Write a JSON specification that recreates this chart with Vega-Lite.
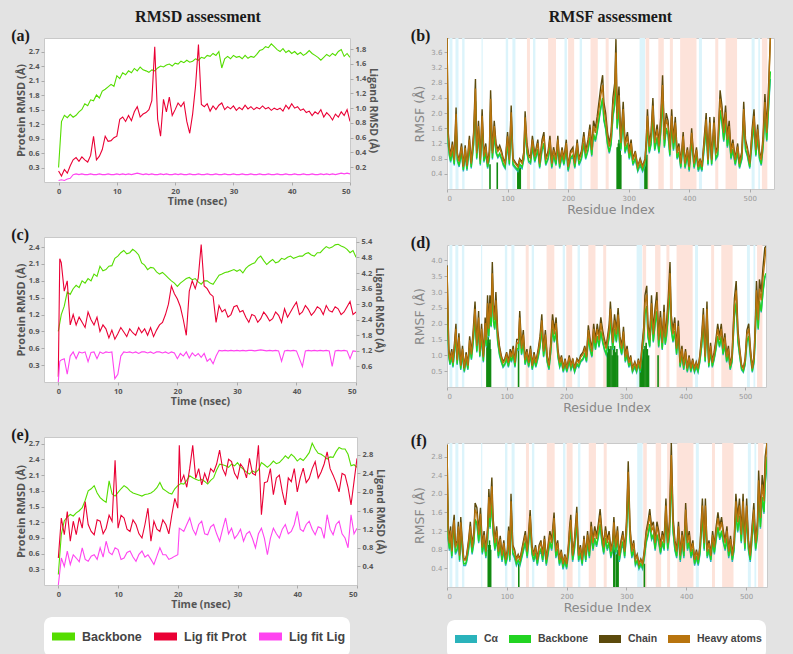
{
"$schema":"https://vega.github.io/schema/vega-lite/v6.json",
"background":"#e3e3e3",
"padding":{"left":10,"top":8,"right":20,"bottom":2},
"config":{
 "view":{"stroke":"#c9c9c9","fill":"#ffffff"},
 "axis":{"grid":false,"domain":false,"tickSize":3,"tickColor":"#aaaaaa","labelFontSize":7.5,"labelColor":"#555555","labelFont":"Open Sans","labelFontWeight":"bold","titleFont":"Open Sans","titleFontWeight":"bold","titleColor":"#555555","titleFontSize":11,"labelPadding":2,"titlePadding":2},
 "title":{"font":"Liberation Serif","fontWeight":"bold","color":"#1a1a1a"},
 "legend":{"fillColor":"#ffffff","cornerRadius":8,"padding":4,"offset":6,"labelFont":"Liberation Sans","labelFontWeight":"bold","labelColor":"#444444","labelOffset":3}
},
"datasets":{
"ra":[
{"t":0,"b":0.3,"p":0.15,"l":0.02},{"t":0.5,"b":1.25,"p":0.08,"l":0.03},{"t":1,"b":1.38,"p":0.17,"l":0.02},{"t":1.5,"b":1.33,"p":0.12,"l":0.04},{"t":2,"b":1.4,"p":0.22,"l":0.05},{"t":2.5,"b":1.34,"p":0.3,"l":0.1},{"t":3,"b":1.38,"p":0.33,"l":0.11},{"t":3.5,"b":1.45,"p":0.28,"l":0.1},{"t":4,"b":1.5,"p":0.34,"l":0.11},{"t":4.5,"b":1.62,"p":0.3,"l":0.1},{"t":5,"b":1.58,"p":0.27,"l":0.1},{"t":5.5,"b":1.7,"p":0.36,"l":0.11},{"t":6,"b":1.68,"p":0.62,"l":0.1},{"t":6.5,"b":1.8,"p":0.3,"l":0.1},{"t":7,"b":1.74,"p":0.35,"l":0.11},{"t":7.5,"b":1.88,"p":0.44,"l":0.1},{"t":8,"b":1.92,"p":0.62,"l":0.1},{"t":8.5,"b":1.97,"p":0.55,"l":0.11},{"t":9,"b":2.02,"p":0.56,"l":0.1},{"t":9.5,"b":1.98,"p":0.6,"l":0.1},{"t":10,"b":2.2,"p":0.62,"l":0.11},{"t":10.5,"b":2.14,"p":0.85,"l":0.1},{"t":11,"b":2.26,"p":0.88,"l":0.11},{"t":11.5,"b":2.22,"p":0.82,"l":0.1},{"t":12,"b":2.3,"p":0.9,"l":0.11},{"t":12.5,"b":2.26,"p":0.83,"l":0.1},{"t":13,"b":2.35,"p":0.95,"l":0.11},{"t":13.5,"b":2.3,"p":1.02,"l":0.12},{"t":14,"b":2.38,"p":0.88,"l":0.11},{"t":14.5,"b":2.32,"p":0.92,"l":0.1},{"t":15,"b":2.3,"p":0.94,"l":0.11},{"t":15.5,"b":2.27,"p":0.98,"l":0.1},{"t":16,"b":2.32,"p":1.1,"l":0.11},{"t":16.5,"b":2.3,"p":1.83,"l":0.1},{"t":17,"b":2.36,"p":0.85,"l":0.1},{"t":17.5,"b":2.4,"p":0.62,"l":0.11},{"t":18,"b":2.38,"p":1.12,"l":0.1},{"t":18.5,"b":2.42,"p":0.95,"l":0.11},{"t":19,"b":2.44,"p":1.15,"l":0.1},{"t":19.5,"b":2.4,"p":0.9,"l":0.1},{"t":20,"b":2.46,"p":0.98,"l":0.11},{"t":20.5,"b":2.44,"p":1.07,"l":0.1},{"t":21,"b":2.5,"p":1.02,"l":0.11},{"t":21.5,"b":2.47,"p":1.08,"l":0.1},{"t":22,"b":2.52,"p":0.82,"l":0.1},{"t":22.5,"b":2.48,"p":0.66,"l":0.11},{"t":23,"b":2.5,"p":0.92,"l":0.1},{"t":23.5,"b":2.55,"p":1.3,"l":0.1},{"t":24,"b":2.52,"p":1.86,"l":0.11},{"t":24.5,"b":2.58,"p":1.05,"l":0.1},{"t":25,"b":2.56,"p":1.02,"l":0.1},{"t":25.5,"b":2.62,"p":1.06,"l":0.11},{"t":26,"b":2.6,"p":0.96,"l":0.1},{"t":26.5,"b":2.66,"p":1.03,"l":0.1},{"t":27,"b":2.62,"p":0.98,"l":0.11},{"t":27.5,"b":2.7,"p":1.04,"l":0.1},{"t":28,"b":2.36,"p":1.07,"l":0.1},{"t":28.5,"b":2.55,"p":0.98,"l":0.11},{"t":29,"b":2.6,"p":1.02,"l":0.1},{"t":29.5,"b":2.55,"p":0.99,"l":0.1},{"t":30,"b":2.62,"p":1.03,"l":0.11},{"t":30.5,"b":2.58,"p":0.97,"l":0.1},{"t":31,"b":2.6,"p":1.01,"l":0.1},{"t":31.5,"b":2.55,"p":0.98,"l":0.11},{"t":32,"b":2.62,"p":1.04,"l":0.1},{"t":32.5,"b":2.56,"p":0.99,"l":0.1},{"t":33,"b":2.6,"p":1.02,"l":0.11},{"t":33.5,"b":2.58,"p":0.98,"l":0.1},{"t":34,"b":2.64,"p":1.01,"l":0.1},{"t":34.5,"b":2.72,"p":0.99,"l":0.11},{"t":35,"b":2.74,"p":1.03,"l":0.1},{"t":35.5,"b":2.8,"p":0.99,"l":0.1},{"t":36,"b":2.78,"p":1.01,"l":0.11},{"t":36.5,"b":2.86,"p":0.97,"l":0.1},{"t":37,"b":2.8,"p":1.0,"l":0.1},{"t":37.5,"b":2.74,"p":0.98,"l":0.11},{"t":38,"b":2.7,"p":1.0,"l":0.1},{"t":38.5,"b":2.76,"p":0.96,"l":0.1},{"t":39,"b":2.68,"p":1.04,"l":0.11},{"t":39.5,"b":2.72,"p":0.99,"l":0.1},{"t":40,"b":2.66,"p":1.06,"l":0.1},{"t":40.5,"b":2.7,"p":1.0,"l":0.11},{"t":41,"b":2.64,"p":1.02,"l":0.1},{"t":41.5,"b":2.68,"p":0.97,"l":0.1},{"t":42,"b":2.62,"p":0.99,"l":0.11},{"t":42.5,"b":2.66,"p":0.94,"l":0.1},{"t":43,"b":2.72,"p":0.96,"l":0.1},{"t":43.5,"b":2.66,"p":0.9,"l":0.11},{"t":44,"b":2.62,"p":0.95,"l":0.1},{"t":44.5,"b":2.58,"p":0.92,"l":0.1},{"t":45,"b":2.52,"p":0.98,"l":0.11},{"t":45.5,"b":2.58,"p":0.88,"l":0.1},{"t":46,"b":2.64,"p":0.94,"l":0.11},{"t":46.5,"b":2.6,"p":0.9,"l":0.1},{"t":47,"b":2.66,"p":0.84,"l":0.11},{"t":47.5,"b":2.62,"p":0.92,"l":0.1},{"t":48,"b":2.7,"p":0.88,"l":0.11},{"t":48.5,"b":2.74,"p":0.95,"l":0.12},{"t":49,"b":2.6,"p":0.9,"l":0.11},{"t":49.5,"b":2.66,"p":0.98,"l":0.12},{"t":50,"b":2.58,"p":0.82,"l":0.11}
],
"rc":[
{"t":0,"b":0.9,"p":0.2,"l":0.0},{"t":0.25,"b":1.05,"p":4.75,"l":0.8},{"t":0.5,"b":1.2,"p":4.6,"l":0.85},{"t":1,"b":1.35,"p":3.5,"l":0.9},{"t":1.5,"b":1.6,"p":3.9,"l":0.3},{"t":2,"b":1.56,"p":2.2,"l":1.0},{"t":2.5,"b":1.66,"p":2.6,"l":1.16},{"t":3,"b":1.72,"p":2.2,"l":0.9},{"t":3.5,"b":1.68,"p":2.5,"l":1.16},{"t":4,"b":1.8,"p":2.3,"l":1.12},{"t":4.5,"b":1.76,"p":2.1,"l":1.16},{"t":5,"b":1.84,"p":2.7,"l":0.78},{"t":5.5,"b":1.8,"p":2.4,"l":1.14},{"t":6,"b":1.92,"p":2.2,"l":1.16},{"t":6.5,"b":1.88,"p":2.5,"l":0.9},{"t":7,"b":2.06,"p":1.95,"l":1.16},{"t":7.5,"b":1.98,"p":2.2,"l":1.1},{"t":8,"b":2.0,"p":2.05,"l":1.16},{"t":8.5,"b":2.06,"p":1.7,"l":1.14},{"t":9,"b":2.07,"p":2.0,"l":1.16},{"t":9.5,"b":2.2,"p":1.65,"l":0.13},{"t":10,"b":2.24,"p":1.86,"l":0.3},{"t":10.5,"b":2.3,"p":2.1,"l":1.0},{"t":11,"b":2.34,"p":1.93,"l":1.16},{"t":11.5,"b":2.28,"p":1.75,"l":1.14},{"t":12,"b":2.3,"p":2.05,"l":1.16},{"t":12.5,"b":2.36,"p":1.9,"l":1.12},{"t":13,"b":2.32,"p":1.8,"l":1.16},{"t":13.5,"b":2.26,"p":2.1,"l":1.1},{"t":14,"b":2.12,"p":1.9,"l":1.16},{"t":14.5,"b":2.08,"p":2.05,"l":1.16},{"t":15,"b":2.0,"p":1.8,"l":1.12},{"t":15.5,"b":2.04,"p":2.1,"l":1.16},{"t":16,"b":2.03,"p":1.75,"l":1.1},{"t":16.5,"b":1.96,"p":2.0,"l":1.16},{"t":17,"b":1.92,"p":2.2,"l":1.16},{"t":17.5,"b":1.95,"p":2.3,"l":1.12},{"t":18,"b":1.9,"p":2.6,"l":1.16},{"t":18.5,"b":1.85,"p":3.0,"l":1.1},{"t":19,"b":1.8,"p":3.7,"l":1.16},{"t":19.5,"b":1.76,"p":3.4,"l":1.12},{"t":20,"b":1.7,"p":3.2,"l":0.9},{"t":20.5,"b":1.76,"p":2.9,"l":1.1},{"t":21,"b":1.8,"p":2.4,"l":1.0},{"t":21.5,"b":1.84,"p":1.8,"l":1.16},{"t":22,"b":1.86,"p":3.5,"l":0.92},{"t":22.5,"b":1.82,"p":3.9,"l":1.12},{"t":23,"b":1.84,"p":3.6,"l":1.0},{"t":23.5,"b":1.78,"p":4.0,"l":1.1},{"t":24,"b":1.74,"p":5.3,"l":0.95},{"t":24.5,"b":1.8,"p":3.7,"l":1.1},{"t":25,"b":1.8,"p":3.6,"l":0.8},{"t":25.5,"b":1.76,"p":3.4,"l":0.9},{"t":26,"b":1.74,"p":3.3,"l":0.7},{"t":26.5,"b":1.82,"p":2.3,"l":1.0},{"t":27,"b":1.9,"p":2.95,"l":1.22},{"t":27.5,"b":1.92,"p":2.7,"l":1.2},{"t":28,"b":1.95,"p":2.8,"l":1.22},{"t":28.5,"b":1.96,"p":2.5,"l":1.2},{"t":29,"b":1.98,"p":2.6,"l":1.22},{"t":29.5,"b":2.0,"p":2.9,"l":1.2},{"t":30,"b":1.97,"p":2.95,"l":1.22},{"t":30.5,"b":2.0,"p":2.7,"l":1.2},{"t":31,"b":1.94,"p":2.76,"l":1.22},{"t":31.5,"b":2.02,"p":2.5,"l":1.2},{"t":32,"b":2.07,"p":2.3,"l":1.22},{"t":32.5,"b":2.1,"p":2.6,"l":1.22},{"t":33,"b":2.12,"p":2.55,"l":1.2},{"t":33.5,"b":2.2,"p":2.3,"l":1.22},{"t":34,"b":2.24,"p":2.44,"l":1.24},{"t":34.5,"b":2.16,"p":2.7,"l":1.22},{"t":35,"b":2.09,"p":2.55,"l":1.2},{"t":35.5,"b":2.14,"p":2.35,"l":1.22},{"t":36,"b":2.18,"p":2.44,"l":1.2},{"t":36.5,"b":2.12,"p":2.7,"l":1.22},{"t":37,"b":2.14,"p":2.57,"l":1.2},{"t":37.5,"b":2.2,"p":2.3,"l":0.8},{"t":38,"b":2.18,"p":2.82,"l":1.2},{"t":38.5,"b":2.22,"p":2.5,"l":1.22},{"t":39,"b":2.24,"p":2.7,"l":1.2},{"t":39.5,"b":2.2,"p":2.9,"l":1.22},{"t":40,"b":2.22,"p":3.08,"l":1.2},{"t":40.5,"b":2.24,"p":2.6,"l":0.9},{"t":41,"b":2.24,"p":2.7,"l":0.6},{"t":41.5,"b":2.28,"p":2.95,"l":1.2},{"t":42,"b":2.3,"p":2.8,"l":1.22},{"t":42.5,"b":2.26,"p":2.57,"l":1.2},{"t":43,"b":2.24,"p":2.7,"l":1.22},{"t":43.5,"b":2.3,"p":2.9,"l":1.2},{"t":44,"b":2.3,"p":2.82,"l":1.22},{"t":44.5,"b":2.36,"p":2.6,"l":1.2},{"t":45,"b":2.41,"p":2.95,"l":1.22},{"t":45.5,"b":2.38,"p":2.75,"l":1.2},{"t":46,"b":2.4,"p":2.7,"l":0.6},{"t":46.5,"b":2.44,"p":2.9,"l":1.2},{"t":47,"b":2.45,"p":2.82,"l":1.22},{"t":47.5,"b":2.42,"p":2.6,"l":1.2},{"t":48,"b":2.4,"p":2.7,"l":1.22},{"t":48.5,"b":2.36,"p":2.9,"l":1.2},{"t":49,"b":2.3,"p":3.1,"l":0.9},{"t":49.5,"b":2.34,"p":2.6,"l":1.2},{"t":50,"b":2.22,"p":2.7,"l":1.18}
],
"re":[
{"t":0,"b":0.2,"p":0.58,"l":0.0},{"t":0.5,"b":0.97,"p":1.44,"l":0.58},{"t":1,"b":1.23,"p":1.08,"l":0.4},{"t":1.5,"b":1.3,"p":1.58,"l":0.73},{"t":2,"b":1.35,"p":0.94,"l":0.44},{"t":2.5,"b":1.32,"p":1.37,"l":0.65},{"t":3,"b":1.38,"p":1.08,"l":0.58},{"t":3.5,"b":1.42,"p":1.45,"l":0.5},{"t":4,"b":1.48,"p":1.22,"l":0.8},{"t":4.5,"b":1.62,"p":1.79,"l":0.55},{"t":5,"b":1.8,"p":1.3,"l":0.51},{"t":5.5,"b":1.84,"p":1.15,"l":0.62},{"t":6,"b":1.9,"p":1.08,"l":0.65},{"t":6.5,"b":1.76,"p":1.4,"l":0.55},{"t":7,"b":1.67,"p":1.37,"l":0.8},{"t":7.5,"b":1.62,"p":1.1,"l":0.6},{"t":8,"b":1.58,"p":1.22,"l":0.94},{"t":8.5,"b":1.99,"p":1.5,"l":0.7},{"t":9,"b":1.74,"p":1.37,"l":0.65},{"t":9.5,"b":1.7,"p":2.68,"l":0.8},{"t":10,"b":1.77,"p":1.22,"l":0.76},{"t":10.5,"b":1.84,"p":1.5,"l":0.55},{"t":11,"b":1.9,"p":1.44,"l":0.58},{"t":11.5,"b":1.86,"p":1.2,"l":0.7},{"t":12,"b":1.8,"p":1.15,"l":0.73},{"t":12.5,"b":1.76,"p":1.4,"l":0.6},{"t":13,"b":1.74,"p":1.3,"l":0.51},{"t":13.5,"b":1.72,"p":1.1,"l":0.66},{"t":14,"b":1.7,"p":1.01,"l":0.73},{"t":14.5,"b":1.73,"p":1.3,"l":0.6},{"t":15,"b":1.74,"p":1.65,"l":0.65},{"t":15.5,"b":1.76,"p":0.94,"l":0.55},{"t":16,"b":1.8,"p":1.37,"l":0.44},{"t":16.5,"b":1.86,"p":1.2,"l":0.62},{"t":17,"b":1.96,"p":1.15,"l":0.8},{"t":17.5,"b":1.84,"p":1.4,"l":0.65},{"t":18,"b":1.8,"p":1.3,"l":0.65},{"t":18.5,"b":1.76,"p":1.1,"l":0.55},{"t":19,"b":1.74,"p":1.51,"l":0.58},{"t":19.5,"b":1.84,"p":1.86,"l":0.62},{"t":20,"b":1.9,"p":1.65,"l":0.65},{"t":20.25,"b":1.92,"p":3.0,"l":1.22},{"t":20.5,"b":1.94,"p":2.2,"l":1.2},{"t":21,"b":1.93,"p":2.36,"l":1.15},{"t":21.5,"b":2.0,"p":2.1,"l":1.3},{"t":22,"b":2.09,"p":2.51,"l":1.44},{"t":22.5,"b":2.05,"p":3.0,"l":1.2},{"t":23,"b":2.02,"p":2.29,"l":1.08},{"t":23.5,"b":2.0,"p":2.5,"l":1.3},{"t":24,"b":2.02,"p":2.15,"l":1.37},{"t":24.5,"b":1.98,"p":2.4,"l":1.1},{"t":25,"b":1.93,"p":2.22,"l":1.08},{"t":25.5,"b":2.0,"p":2.5,"l":1.25},{"t":26,"b":2.05,"p":2.43,"l":1.3},{"t":26.5,"b":2.2,"p":2.6,"l":1.1},{"t":27,"b":2.31,"p":2.9,"l":0.94},{"t":27.5,"b":2.3,"p":2.5,"l":1.2},{"t":28,"b":2.28,"p":2.36,"l":1.44},{"t":28.5,"b":2.25,"p":2.7,"l":1.1},{"t":29,"b":2.31,"p":2.65,"l":1.22},{"t":29.5,"b":2.28,"p":2.4,"l":1.0},{"t":30,"b":2.34,"p":2.29,"l":1.08},{"t":30.5,"b":2.26,"p":2.6,"l":1.2},{"t":31,"b":2.21,"p":2.51,"l":0.94},{"t":31.5,"b":2.16,"p":2.3,"l":1.1},{"t":32,"b":2.12,"p":2.72,"l":1.15},{"t":32.5,"b":2.18,"p":2.4,"l":1.0},{"t":33,"b":2.15,"p":2.36,"l":0.8},{"t":33.5,"b":2.2,"p":3.0,"l":1.1},{"t":34,"b":2.34,"p":1.51,"l":1.22},{"t":34.5,"b":2.3,"p":2.2,"l":1.0},{"t":35,"b":2.25,"p":2.22,"l":0.65},{"t":35.5,"b":2.3,"p":2.5,"l":1.0},{"t":36,"b":2.37,"p":1.94,"l":1.22},{"t":36.5,"b":2.32,"p":2.3,"l":1.1},{"t":37,"b":2.34,"p":2.36,"l":1.01},{"t":37.5,"b":2.4,"p":2.0,"l":1.2},{"t":38,"b":2.47,"p":1.72,"l":1.3},{"t":38.5,"b":2.42,"p":2.3,"l":1.1},{"t":39,"b":2.5,"p":2.22,"l":1.15},{"t":39.5,"b":2.45,"p":2.5,"l":1.3},{"t":40,"b":2.37,"p":2.0,"l":1.58},{"t":40.5,"b":2.42,"p":2.3,"l":1.2},{"t":41,"b":2.38,"p":2.51,"l":1.15},{"t":41.5,"b":2.45,"p":2.2,"l":1.3},{"t":42,"b":2.53,"p":2.29,"l":1.37},{"t":42.5,"b":2.71,"p":2.5,"l":1.2},{"t":43,"b":2.6,"p":2.65,"l":1.08},{"t":43.5,"b":2.52,"p":2.3,"l":1.25},{"t":44,"b":2.5,"p":2.43,"l":1.22},{"t":44.5,"b":2.46,"p":2.6,"l":1.0},{"t":45,"b":2.41,"p":2.86,"l":1.51},{"t":45.5,"b":2.45,"p":2.5,"l":1.2},{"t":46,"b":2.44,"p":2.36,"l":1.08},{"t":46.5,"b":2.55,"p":2.2,"l":1.3},{"t":47,"b":2.63,"p":2.0,"l":1.37},{"t":47.5,"b":2.6,"p":2.4,"l":1.1},{"t":48,"b":2.6,"p":2.36,"l":1.01},{"t":48.5,"b":2.5,"p":2.1,"l":0.8},{"t":49,"b":2.28,"p":1.72,"l":1.51},{"t":49.5,"b":2.3,"p":2.22,"l":1.1},{"t":50,"b":2.25,"p":2.72,"l":1.22}
],
"fb":[
{"r":0,"a":2.7,"b":2.85,"c":4.0,"h":3.98},{"r":2,"a":1.17,"b":1.21,"c":1.5,"h":1.39},{"r":4,"a":0.86,"b":0.9,"c":1.1,"h":1.03},{"r":6,"a":0.7,"b":0.74,"c":0.9,"h":0.85},{"r":9,"a":0.98,"b":1.02,"c":1.25,"h":1.17},{"r":12,"a":0.62,"b":0.66,"c":0.8,"h":0.76},{"r":15,"a":1.69,"b":1.73,"c":2.15,"h":1.98},{"r":17,"a":0.74,"b":0.78,"c":0.95,"h":0.9},{"r":20,"a":0.58,"b":0.62,"c":0.75,"h":0.72},{"r":24,"a":0.94,"b":0.98,"c":1.2,"h":1.12},{"r":27,"a":0.46,"b":0.5,"c":0.6,"h":0.58},{"r":30,"a":0.9,"b":0.94,"c":1.15,"h":1.08},{"r":33,"a":0.48,"b":0.52,"c":0.62,"h":0.6},{"r":37,"a":1.09,"b":1.13,"c":1.4,"h":1.3},{"r":40,"a":0.54,"b":0.58,"c":0.7,"h":0.67},{"r":44,"a":1.17,"b":1.21,"c":1.5,"h":1.39},{"r":47,"a":2.28,"b":2.32,"c":2.9,"h":2.65},{"r":49,"a":0.78,"b":0.82,"c":1.0,"h":0.94},{"r":52,"a":1.41,"b":1.45,"c":1.8,"h":1.66},{"r":55,"a":0.62,"b":0.66,"c":0.8,"h":0.76},{"r":58,"a":1.65,"b":1.69,"c":2.1,"h":1.93},{"r":61,"a":0.7,"b":0.74,"c":0.9,"h":0.85},{"r":64,"a":0.94,"b":0.98,"c":1.2,"h":1.12},{"r":67,"a":0.54,"b":0.58,"c":0.7,"h":0.67},{"r":70,"a":0.78,"b":0.82,"c":1.0,"h":0.94},{"r":72,"a":2.04,"b":2.08,"c":2.6,"h":2.38},{"r":75,"a":0.78,"b":0.82,"c":1.0,"h":0.94},{"r":78,"a":1.41,"b":1.45,"c":1.8,"h":1.66},{"r":81,"a":0.94,"b":0.98,"c":1.2,"h":1.12},{"r":84,"a":0.82,"b":0.86,"c":1.05,"h":0.99},{"r":87,"a":0.9,"b":0.94,"c":1.15,"h":1.08},{"r":90,"a":0.78,"b":0.82,"c":1.0,"h":0.94},{"r":93,"a":0.62,"b":0.66,"c":0.8,"h":0.76},{"r":96,"a":0.54,"b":0.58,"c":0.7,"h":0.67},{"r":100,"a":1.17,"b":1.21,"c":1.5,"h":1.39},{"r":103,"a":0.62,"b":0.66,"c":0.8,"h":0.76},{"r":106,"a":1.73,"b":1.77,"c":2.2,"h":2.02},{"r":109,"a":0.62,"b":0.66,"c":0.8,"h":0.76},{"r":113,"a":0.54,"b":0.58,"c":0.7,"h":0.67},{"r":117,"a":0.46,"b":0.5,"c":0.6,"h":0.58},{"r":120,"a":0.62,"b":0.66,"c":0.8,"h":0.76},{"r":124,"a":0.54,"b":0.58,"c":0.7,"h":0.67},{"r":127,"a":0.78,"b":0.82,"c":1.0,"h":0.94},{"r":129,"a":1.61,"b":1.65,"c":2.05,"h":1.89},{"r":132,"a":0.94,"b":0.98,"c":1.2,"h":1.12},{"r":135,"a":0.7,"b":0.74,"c":0.9,"h":0.85},{"r":138,"a":0.66,"b":0.7,"c":0.85,"h":0.81},{"r":141,"a":1.09,"b":1.13,"c":1.4,"h":1.3},{"r":145,"a":0.7,"b":0.74,"c":0.9,"h":0.85},{"r":150,"a":1.01,"b":1.05,"c":1.3,"h":1.21},{"r":153,"a":0.54,"b":0.58,"c":0.7,"h":0.67},{"r":157,"a":1.01,"b":1.05,"c":1.3,"h":1.21},{"r":160,"a":1.17,"b":1.21,"c":1.5,"h":1.39},{"r":163,"a":0.62,"b":0.66,"c":0.8,"h":0.76},{"r":167,"a":0.78,"b":0.82,"c":1.0,"h":0.94},{"r":170,"a":1.09,"b":1.13,"c":1.4,"h":1.3},{"r":173,"a":0.54,"b":0.58,"c":0.7,"h":0.67},{"r":176,"a":0.86,"b":0.9,"c":1.1,"h":1.03},{"r":180,"a":0.62,"b":0.66,"c":0.8,"h":0.76},{"r":183,"a":1.09,"b":1.13,"c":1.4,"h":1.3},{"r":186,"a":0.54,"b":0.58,"c":0.7,"h":0.67},{"r":190,"a":0.86,"b":0.9,"c":1.1,"h":1.03},{"r":193,"a":0.62,"b":0.66,"c":0.8,"h":0.76},{"r":197,"a":1.01,"b":1.05,"c":1.3,"h":1.21},{"r":200,"a":0.46,"b":0.5,"c":0.6,"h":0.58},{"r":204,"a":0.78,"b":0.82,"c":1.0,"h":0.94},{"r":208,"a":0.86,"b":0.9,"c":1.1,"h":1.03},{"r":211,"a":0.54,"b":0.58,"c":0.7,"h":0.67},{"r":215,"a":1.01,"b":1.05,"c":1.3,"h":1.21},{"r":218,"a":0.62,"b":0.66,"c":0.8,"h":0.76},{"r":222,"a":0.78,"b":0.82,"c":1.0,"h":0.94},{"r":226,"a":1.17,"b":1.21,"c":1.5,"h":1.39},{"r":229,"a":0.78,"b":0.82,"c":1.0,"h":0.94},{"r":233,"a":1.01,"b":1.05,"c":1.3,"h":1.21},{"r":236,"a":1.33,"b":1.37,"c":1.7,"h":1.57},{"r":239,"a":0.86,"b":0.9,"c":1.1,"h":1.03},{"r":242,"a":1.41,"b":1.45,"c":1.8,"h":1.66},{"r":245,"a":1.25,"b":1.29,"c":1.6,"h":1.48},{"r":248,"a":1.49,"b":1.53,"c":1.9,"h":1.75},{"r":251,"a":1.81,"b":1.85,"c":2.3,"h":2.11},{"r":254,"a":2.12,"b":2.16,"c":2.7,"h":2.47},{"r":257,"a":2.36,"b":2.4,"c":3.0,"h":2.74},{"r":259,"a":1.81,"b":1.85,"c":2.3,"h":2.11},{"r":262,"a":1.57,"b":1.61,"c":2.0,"h":1.84},{"r":265,"a":1.17,"b":1.21,"c":1.5,"h":1.39},{"r":268,"a":0.94,"b":0.98,"c":1.2,"h":1.12},{"r":271,"a":1.17,"b":1.21,"c":1.5,"h":1.39},{"r":274,"a":1.89,"b":1.93,"c":2.4,"h":2.2},{"r":277,"a":2.2,"b":2.24,"c":2.8,"h":2.56},{"r":279,"a":3.12,"b":3.16,"c":3.95,"h":3.6},{"r":281,"a":1.57,"b":1.61,"c":2.0,"h":1.84},{"r":284,"a":2.12,"b":2.16,"c":2.7,"h":2.47},{"r":287,"a":1.01,"b":1.05,"c":1.3,"h":1.21},{"r":291,"a":1.81,"b":1.85,"c":2.3,"h":2.11},{"r":294,"a":0.94,"b":0.98,"c":1.2,"h":1.12},{"r":298,"a":1.17,"b":1.21,"c":1.5,"h":1.39},{"r":301,"a":0.78,"b":0.82,"c":1.0,"h":0.94},{"r":304,"a":1.01,"b":1.05,"c":1.3,"h":1.21},{"r":307,"a":0.62,"b":0.66,"c":0.8,"h":0.76},{"r":311,"a":0.78,"b":0.82,"c":1.0,"h":0.94},{"r":315,"a":0.46,"b":0.5,"c":0.6,"h":0.58},{"r":319,"a":0.62,"b":0.66,"c":0.8,"h":0.76},{"r":323,"a":0.46,"b":0.5,"c":0.6,"h":0.58},{"r":327,"a":0.62,"b":0.66,"c":0.8,"h":0.76},{"r":329,"a":1.01,"b":1.05,"c":1.3,"h":1.21},{"r":331,"a":1.65,"b":1.69,"c":2.1,"h":1.93},{"r":334,"a":0.94,"b":0.98,"c":1.2,"h":1.12},{"r":337,"a":1.17,"b":1.21,"c":1.5,"h":1.39},{"r":340,"a":1.89,"b":1.93,"c":2.4,"h":2.2},{"r":343,"a":1.01,"b":1.05,"c":1.3,"h":1.21},{"r":347,"a":1.33,"b":1.37,"c":1.7,"h":1.57},{"r":350,"a":0.94,"b":0.98,"c":1.2,"h":1.12},{"r":353,"a":1.49,"b":1.53,"c":1.9,"h":1.75},{"r":356,"a":2.36,"b":2.4,"c":3.0,"h":2.74},{"r":359,"a":1.09,"b":1.13,"c":1.4,"h":1.3},{"r":362,"a":1.57,"b":1.61,"c":2.0,"h":1.84},{"r":365,"a":1.41,"b":1.45,"c":1.8,"h":1.66},{"r":368,"a":0.86,"b":0.9,"c":1.1,"h":1.03},{"r":371,"a":1.65,"b":1.69,"c":2.1,"h":1.93},{"r":374,"a":1.01,"b":1.05,"c":1.3,"h":1.21},{"r":377,"a":1.49,"b":1.53,"c":1.9,"h":1.75},{"r":380,"a":0.78,"b":0.82,"c":1.0,"h":0.94},{"r":383,"a":0.94,"b":0.98,"c":1.2,"h":1.12},{"r":386,"a":0.54,"b":0.58,"c":0.7,"h":0.67},{"r":390,"a":1.17,"b":1.21,"c":1.5,"h":1.39},{"r":393,"a":0.54,"b":0.58,"c":0.7,"h":0.67},{"r":397,"a":0.86,"b":0.9,"c":1.1,"h":1.03},{"r":400,"a":0.46,"b":0.5,"c":0.6,"h":0.58},{"r":404,"a":1.25,"b":1.29,"c":1.6,"h":1.48},{"r":408,"a":0.54,"b":0.58,"c":0.7,"h":0.67},{"r":412,"a":0.86,"b":0.9,"c":1.1,"h":1.03},{"r":415,"a":0.46,"b":0.5,"c":0.6,"h":0.58},{"r":418,"a":0.62,"b":0.66,"c":0.8,"h":0.76},{"r":421,"a":0.46,"b":0.5,"c":0.6,"h":0.58},{"r":424,"a":0.94,"b":0.98,"c":1.2,"h":1.12},{"r":428,"a":1.57,"b":1.61,"c":2.0,"h":1.84},{"r":431,"a":0.62,"b":0.66,"c":0.8,"h":0.76},{"r":434,"a":1.49,"b":1.53,"c":1.9,"h":1.75},{"r":437,"a":0.62,"b":0.66,"c":0.8,"h":0.76},{"r":441,"a":1.49,"b":1.53,"c":1.9,"h":1.75},{"r":444,"a":0.78,"b":0.82,"c":1.0,"h":0.94},{"r":447,"a":0.86,"b":0.9,"c":1.1,"h":1.03},{"r":451,"a":2.04,"b":2.08,"c":2.6,"h":2.38},{"r":454,"a":1.73,"b":1.77,"c":2.2,"h":2.02},{"r":457,"a":1.25,"b":1.29,"c":1.6,"h":1.48},{"r":460,"a":1.73,"b":1.77,"c":2.2,"h":2.02},{"r":463,"a":1.09,"b":1.13,"c":1.4,"h":1.3},{"r":466,"a":1.41,"b":1.45,"c":1.8,"h":1.66},{"r":469,"a":0.78,"b":0.82,"c":1.0,"h":0.94},{"r":472,"a":1.01,"b":1.05,"c":1.3,"h":1.21},{"r":476,"a":0.62,"b":0.66,"c":0.8,"h":0.76},{"r":480,"a":0.94,"b":0.98,"c":1.2,"h":1.12},{"r":483,"a":0.54,"b":0.58,"c":0.7,"h":0.67},{"r":487,"a":0.78,"b":0.82,"c":1.0,"h":0.94},{"r":490,"a":1.81,"b":1.85,"c":2.3,"h":2.11},{"r":493,"a":1.01,"b":1.05,"c":1.3,"h":1.21},{"r":496,"a":0.86,"b":0.9,"c":1.1,"h":1.03},{"r":500,"a":0.54,"b":0.58,"c":0.7,"h":0.67},{"r":504,"a":1.25,"b":1.29,"c":1.6,"h":1.48},{"r":507,"a":1.65,"b":1.69,"c":2.1,"h":1.93},{"r":510,"a":0.86,"b":0.9,"c":1.1,"h":1.03},{"r":513,"a":1.33,"b":1.37,"c":1.7,"h":1.57},{"r":516,"a":0.78,"b":0.82,"c":1.0,"h":0.94},{"r":519,"a":0.62,"b":0.66,"c":0.8,"h":0.76},{"r":522,"a":1.09,"b":1.13,"c":1.4,"h":1.3},{"r":525,"a":1.96,"b":2.0,"c":2.5,"h":2.29},{"r":528,"a":1.25,"b":1.29,"c":1.6,"h":1.48},{"r":531,"a":2.12,"b":2.16,"c":2.7,"h":2.47},{"r":534,"a":2.9,"b":3.1,"c":4.0,"h":3.98}
],
"fd":[
{"r":0,"a":2.4,"b":2.6,"c":3.85,"h":3.8},{"r":3,"a":0.94,"b":0.98,"c":1.2,"h":1.12},{"r":5,"a":0.7,"b":0.74,"c":0.9,"h":0.85},{"r":8,"a":0.94,"b":0.98,"c":1.2,"h":1.12},{"r":10,"a":0.62,"b":0.66,"c":0.8,"h":0.76},{"r":13,"a":1.17,"b":1.21,"c":1.5,"h":1.39},{"r":15,"a":1.57,"b":1.61,"c":2.0,"h":1.84},{"r":17,"a":0.7,"b":0.74,"c":0.9,"h":0.85},{"r":20,"a":1.33,"b":1.37,"c":1.7,"h":1.57},{"r":23,"a":0.54,"b":0.58,"c":0.7,"h":0.67},{"r":26,"a":1.01,"b":1.05,"c":1.3,"h":1.21},{"r":29,"a":0.46,"b":0.5,"c":0.6,"h":0.58},{"r":32,"a":0.86,"b":0.9,"c":1.1,"h":1.03},{"r":35,"a":0.54,"b":0.58,"c":0.7,"h":0.67},{"r":38,"a":1.25,"b":1.29,"c":1.6,"h":1.48},{"r":41,"a":0.86,"b":0.9,"c":1.1,"h":1.03},{"r":44,"a":1.41,"b":1.45,"c":1.8,"h":1.66},{"r":47,"a":2.12,"b":2.16,"c":2.7,"h":2.47},{"r":50,"a":1.09,"b":1.13,"c":1.4,"h":1.3},{"r":53,"a":1.89,"b":1.93,"c":2.4,"h":2.2},{"r":55,"a":0.94,"b":0.98,"c":1.2,"h":1.12},{"r":58,"a":1.57,"b":1.61,"c":2.0,"h":1.84},{"r":61,"a":0.78,"b":0.82,"c":1.0,"h":0.94},{"r":64,"a":1.73,"b":1.77,"c":2.2,"h":2.02},{"r":66,"a":1.25,"b":1.29,"c":1.6,"h":1.48},{"r":68,"a":2.28,"b":2.32,"c":2.9,"h":2.65},{"r":70,"a":1.57,"b":1.61,"c":2.0,"h":1.84},{"r":72,"a":2.28,"b":2.32,"c":2.9,"h":2.65},{"r":74,"a":1.89,"b":1.93,"c":2.4,"h":2.2},{"r":76,"a":3.12,"b":3.16,"c":3.95,"h":3.6},{"r":78,"a":2.04,"b":2.08,"c":2.6,"h":2.38},{"r":80,"a":1.81,"b":1.85,"c":2.3,"h":2.11},{"r":82,"a":2.36,"b":2.4,"c":3.0,"h":2.74},{"r":85,"a":1.41,"b":1.45,"c":1.8,"h":1.66},{"r":88,"a":1.01,"b":1.05,"c":1.3,"h":1.21},{"r":91,"a":0.78,"b":0.82,"c":1.0,"h":0.94},{"r":94,"a":0.62,"b":0.66,"c":0.8,"h":0.76},{"r":97,"a":0.7,"b":0.74,"c":0.9,"h":0.85},{"r":100,"a":0.86,"b":0.9,"c":1.1,"h":1.03},{"r":103,"a":0.62,"b":0.66,"c":0.8,"h":0.76},{"r":106,"a":0.94,"b":0.98,"c":1.2,"h":1.12},{"r":108,"a":0.78,"b":0.82,"c":1.0,"h":0.94},{"r":111,"a":1.01,"b":1.05,"c":1.3,"h":1.21},{"r":114,"a":0.62,"b":0.66,"c":0.8,"h":0.76},{"r":117,"a":1.17,"b":1.21,"c":1.5,"h":1.39},{"r":120,"a":1.17,"b":1.21,"c":1.5,"h":1.39},{"r":122,"a":1.89,"b":1.93,"c":2.4,"h":2.2},{"r":125,"a":1.01,"b":1.05,"c":1.3,"h":1.21},{"r":128,"a":1.41,"b":1.45,"c":1.8,"h":1.66},{"r":131,"a":0.7,"b":0.74,"c":0.9,"h":0.85},{"r":134,"a":0.94,"b":0.98,"c":1.2,"h":1.12},{"r":137,"a":0.62,"b":0.66,"c":0.8,"h":0.76},{"r":140,"a":1.01,"b":1.05,"c":1.3,"h":1.21},{"r":143,"a":0.54,"b":0.58,"c":0.7,"h":0.67},{"r":146,"a":0.86,"b":0.9,"c":1.1,"h":1.03},{"r":149,"a":0.62,"b":0.66,"c":0.8,"h":0.76},{"r":153,"a":0.94,"b":0.98,"c":1.2,"h":1.12},{"r":156,"a":1.25,"b":1.29,"c":1.6,"h":1.48},{"r":159,"a":1.81,"b":1.85,"c":2.3,"h":2.11},{"r":162,"a":0.94,"b":0.98,"c":1.2,"h":1.12},{"r":165,"a":1.41,"b":1.45,"c":1.8,"h":1.66},{"r":168,"a":0.78,"b":0.82,"c":1.0,"h":0.94},{"r":171,"a":0.54,"b":0.58,"c":0.7,"h":0.67},{"r":174,"a":1.09,"b":1.13,"c":1.4,"h":1.3},{"r":177,"a":1.81,"b":1.85,"c":2.3,"h":2.11},{"r":180,"a":1.41,"b":1.45,"c":1.8,"h":1.66},{"r":183,"a":1.73,"b":1.77,"c":2.2,"h":2.02},{"r":186,"a":0.94,"b":0.98,"c":1.2,"h":1.12},{"r":189,"a":0.62,"b":0.66,"c":0.8,"h":0.76},{"r":192,"a":0.78,"b":0.82,"c":1.0,"h":0.94},{"r":195,"a":0.46,"b":0.5,"c":0.6,"h":0.58},{"r":198,"a":0.7,"b":0.74,"c":0.9,"h":0.85},{"r":201,"a":0.46,"b":0.5,"c":0.6,"h":0.58},{"r":205,"a":0.78,"b":0.82,"c":1.0,"h":0.94},{"r":208,"a":0.54,"b":0.58,"c":0.7,"h":0.67},{"r":211,"a":0.7,"b":0.74,"c":0.9,"h":0.85},{"r":214,"a":0.46,"b":0.5,"c":0.6,"h":0.58},{"r":218,"a":0.7,"b":0.74,"c":0.9,"h":0.85},{"r":221,"a":0.62,"b":0.66,"c":0.8,"h":0.76},{"r":224,"a":0.78,"b":0.82,"c":1.0,"h":0.94},{"r":228,"a":0.86,"b":0.9,"c":1.1,"h":1.03},{"r":231,"a":1.01,"b":1.05,"c":1.3,"h":1.21},{"r":234,"a":0.78,"b":0.82,"c":1.0,"h":0.94},{"r":237,"a":1.53,"b":1.57,"c":1.95,"h":1.8},{"r":240,"a":1.17,"b":1.21,"c":1.5,"h":1.39},{"r":243,"a":0.94,"b":0.98,"c":1.2,"h":1.12},{"r":246,"a":1.57,"b":1.61,"c":2.0,"h":1.84},{"r":249,"a":1.17,"b":1.21,"c":1.5,"h":1.39},{"r":252,"a":1.57,"b":1.61,"c":2.0,"h":1.84},{"r":255,"a":1.25,"b":1.29,"c":1.6,"h":1.48},{"r":258,"a":1.73,"b":1.77,"c":2.2,"h":2.02},{"r":261,"a":1.41,"b":1.45,"c":1.8,"h":1.66},{"r":264,"a":1.17,"b":1.21,"c":1.5,"h":1.39},{"r":267,"a":1.01,"b":1.05,"c":1.3,"h":1.21},{"r":270,"a":1.33,"b":1.37,"c":1.7,"h":1.57},{"r":272,"a":1.57,"b":1.61,"c":2.0,"h":1.84},{"r":274,"a":2.12,"b":2.16,"c":2.7,"h":2.47},{"r":278,"a":1.17,"b":1.21,"c":1.5,"h":1.39},{"r":281,"a":1.81,"b":1.85,"c":2.3,"h":2.11},{"r":284,"a":1.41,"b":1.45,"c":1.8,"h":1.66},{"r":287,"a":1.96,"b":2.0,"c":2.5,"h":2.29},{"r":290,"a":1.25,"b":1.29,"c":1.6,"h":1.48},{"r":293,"a":1.01,"b":1.05,"c":1.3,"h":1.21},{"r":296,"a":1.49,"b":1.53,"c":1.9,"h":1.75},{"r":299,"a":0.78,"b":0.82,"c":1.0,"h":0.94},{"r":302,"a":1.01,"b":1.05,"c":1.3,"h":1.21},{"r":305,"a":0.62,"b":0.66,"c":0.8,"h":0.76},{"r":308,"a":0.78,"b":0.82,"c":1.0,"h":0.94},{"r":311,"a":0.46,"b":0.5,"c":0.6,"h":0.58},{"r":315,"a":0.62,"b":0.66,"c":0.8,"h":0.76},{"r":318,"a":0.46,"b":0.5,"c":0.6,"h":0.58},{"r":321,"a":0.7,"b":0.74,"c":0.9,"h":0.85},{"r":324,"a":0.46,"b":0.5,"c":0.6,"h":0.58},{"r":327,"a":1.01,"b":1.05,"c":1.3,"h":1.21},{"r":330,"a":1.49,"b":1.53,"c":1.9,"h":1.75},{"r":332,"a":2.28,"b":2.32,"c":2.9,"h":2.65},{"r":335,"a":2.52,"b":2.56,"c":3.2,"h":2.92},{"r":337,"a":1.57,"b":1.61,"c":2.0,"h":1.84},{"r":340,"a":1.25,"b":1.29,"c":1.6,"h":1.48},{"r":343,"a":2.28,"b":2.32,"c":2.9,"h":2.65},{"r":346,"a":1.41,"b":1.45,"c":1.8,"h":1.66},{"r":349,"a":1.96,"b":2.0,"c":2.5,"h":2.29},{"r":352,"a":2.36,"b":2.4,"c":3.0,"h":2.74},{"r":355,"a":1.25,"b":1.29,"c":1.6,"h":1.48},{"r":358,"a":1.89,"b":1.93,"c":2.4,"h":2.2},{"r":361,"a":1.17,"b":1.21,"c":1.5,"h":1.39},{"r":364,"a":2.04,"b":2.08,"c":2.6,"h":2.38},{"r":366,"a":1.33,"b":1.37,"c":1.7,"h":1.57},{"r":368,"a":1.57,"b":1.61,"c":2.0,"h":1.84},{"r":371,"a":2.2,"b":2.24,"c":2.8,"h":2.56},{"r":374,"a":3.12,"b":3.16,"c":3.95,"h":3.6},{"r":376,"a":1.81,"b":1.85,"c":2.3,"h":2.11},{"r":379,"a":1.41,"b":1.45,"c":1.8,"h":1.66},{"r":382,"a":1.73,"b":1.77,"c":2.2,"h":2.02},{"r":385,"a":1.01,"b":1.05,"c":1.3,"h":1.21},{"r":388,"a":1.65,"b":1.69,"c":2.1,"h":1.93},{"r":391,"a":0.62,"b":0.66,"c":0.8,"h":0.76},{"r":394,"a":1.01,"b":1.05,"c":1.3,"h":1.21},{"r":397,"a":0.54,"b":0.58,"c":0.7,"h":0.67},{"r":400,"a":0.94,"b":0.98,"c":1.2,"h":1.12},{"r":403,"a":0.46,"b":0.5,"c":0.6,"h":0.58},{"r":406,"a":0.78,"b":0.82,"c":1.0,"h":0.94},{"r":409,"a":0.46,"b":0.5,"c":0.6,"h":0.58},{"r":412,"a":0.7,"b":0.74,"c":0.9,"h":0.85},{"r":415,"a":0.46,"b":0.5,"c":0.6,"h":0.58},{"r":418,"a":0.62,"b":0.66,"c":0.8,"h":0.76},{"r":421,"a":0.46,"b":0.5,"c":0.6,"h":0.58},{"r":424,"a":0.78,"b":0.82,"c":1.0,"h":0.94},{"r":427,"a":1.25,"b":1.29,"c":1.6,"h":1.48},{"r":430,"a":1.96,"b":2.0,"c":2.5,"h":2.29},{"r":433,"a":0.78,"b":0.82,"c":1.0,"h":0.94},{"r":436,"a":2.12,"b":2.16,"c":2.7,"h":2.47},{"r":439,"a":0.62,"b":0.66,"c":0.8,"h":0.76},{"r":442,"a":1.09,"b":1.13,"c":1.4,"h":1.3},{"r":445,"a":0.62,"b":0.66,"c":0.8,"h":0.76},{"r":448,"a":0.86,"b":0.9,"c":1.1,"h":1.03},{"r":451,"a":1.17,"b":1.21,"c":1.5,"h":1.39},{"r":454,"a":1.57,"b":1.61,"c":2.0,"h":1.84},{"r":457,"a":1.25,"b":1.29,"c":1.6,"h":1.48},{"r":460,"a":1.57,"b":1.61,"c":2.0,"h":1.84},{"r":463,"a":1.01,"b":1.05,"c":1.3,"h":1.21},{"r":466,"a":1.33,"b":1.37,"c":1.7,"h":1.57},{"r":469,"a":0.78,"b":0.82,"c":1.0,"h":0.94},{"r":472,"a":1.01,"b":1.05,"c":1.3,"h":1.21},{"r":475,"a":0.54,"b":0.58,"c":0.7,"h":0.67},{"r":478,"a":0.78,"b":0.82,"c":1.0,"h":0.94},{"r":482,"a":2.2,"b":2.24,"c":2.8,"h":2.56},{"r":485,"a":2.64,"b":2.68,"c":3.35,"h":3.06},{"r":488,"a":1.41,"b":1.45,"c":1.8,"h":1.66},{"r":491,"a":0.94,"b":0.98,"c":1.2,"h":1.12},{"r":494,"a":0.54,"b":0.58,"c":0.7,"h":0.67},{"r":497,"a":0.46,"b":0.5,"c":0.6,"h":0.58},{"r":500,"a":0.7,"b":0.74,"c":0.9,"h":0.85},{"r":503,"a":1.41,"b":1.45,"c":1.8,"h":1.66},{"r":506,"a":1.57,"b":1.61,"c":2.0,"h":1.84},{"r":509,"a":0.94,"b":0.98,"c":1.2,"h":1.12},{"r":512,"a":0.46,"b":0.5,"c":0.6,"h":0.58},{"r":515,"a":0.78,"b":0.82,"c":1.0,"h":0.94},{"r":517,"a":1.57,"b":1.61,"c":2.0,"h":1.84},{"r":519,"a":2.64,"b":2.68,"c":3.35,"h":3.06},{"r":522,"a":1.81,"b":1.85,"c":2.3,"h":2.11},{"r":524,"a":2.68,"b":2.72,"c":3.4,"h":3.1},{"r":527,"a":2.36,"b":2.4,"c":3.0,"h":2.74},{"r":530,"a":2.99,"b":3.03,"c":3.8,"h":3.46},{"r":533,"a":3.46,"b":3.5,"c":4.4,"h":4.0},{"r":535,"a":3.5,"b":3.6,"c":4.45,"h":4.4}
],
"ff":[
{"r":0,"a":2.3,"b":2.5,"c":3.05,"h":3.05},{"r":2,"a":1.01,"b":1.05,"c":1.3,"h":1.21},{"r":4,"a":0.78,"b":0.82,"c":1.0,"h":0.94},{"r":6,"a":1.01,"b":1.05,"c":1.3,"h":1.21},{"r":8,"a":0.62,"b":0.66,"c":0.8,"h":0.76},{"r":10,"a":1.01,"b":1.05,"c":1.3,"h":1.21},{"r":12,"a":1.22,"b":1.26,"c":1.55,"h":1.44},{"r":14,"a":0.7,"b":0.74,"c":0.9,"h":0.85},{"r":17,"a":0.78,"b":0.82,"c":1.0,"h":0.94},{"r":19,"a":1.09,"b":1.13,"c":1.4,"h":1.3},{"r":21,"a":0.54,"b":0.58,"c":0.7,"h":0.67},{"r":23,"a":1.17,"b":1.21,"c":1.5,"h":1.39},{"r":25,"a":0.86,"b":0.9,"c":1.1,"h":1.03},{"r":28,"a":0.46,"b":0.5,"c":0.6,"h":0.58},{"r":31,"a":0.46,"b":0.5,"c":0.6,"h":0.58},{"r":33,"a":0.54,"b":0.58,"c":0.7,"h":0.67},{"r":36,"a":0.78,"b":0.82,"c":1.0,"h":0.94},{"r":39,"a":1.09,"b":1.13,"c":1.4,"h":1.3},{"r":42,"a":0.7,"b":0.74,"c":0.9,"h":0.85},{"r":45,"a":0.94,"b":0.98,"c":1.2,"h":1.12},{"r":47,"a":1.41,"b":1.45,"c":1.8,"h":1.66},{"r":50,"a":1.33,"b":1.37,"c":1.7,"h":1.57},{"r":53,"a":0.94,"b":0.98,"c":1.2,"h":1.12},{"r":56,"a":1.33,"b":1.37,"c":1.7,"h":1.57},{"r":59,"a":0.7,"b":0.74,"c":0.9,"h":0.85},{"r":62,"a":0.94,"b":0.98,"c":1.2,"h":1.12},{"r":65,"a":0.62,"b":0.66,"c":0.8,"h":0.76},{"r":68,"a":1.01,"b":1.05,"c":1.3,"h":1.21},{"r":70,"a":1.65,"b":1.69,"c":2.1,"h":1.93},{"r":72,"a":1.25,"b":1.29,"c":1.6,"h":1.48},{"r":75,"a":1.85,"b":1.89,"c":2.35,"h":2.16},{"r":77,"a":1.17,"b":1.21,"c":1.5,"h":1.39},{"r":80,"a":0.78,"b":0.82,"c":1.0,"h":0.94},{"r":83,"a":1.01,"b":1.05,"c":1.3,"h":1.21},{"r":86,"a":0.62,"b":0.66,"c":0.8,"h":0.76},{"r":89,"a":0.86,"b":0.9,"c":1.1,"h":1.03},{"r":92,"a":0.54,"b":0.58,"c":0.7,"h":0.67},{"r":95,"a":0.78,"b":0.82,"c":1.0,"h":0.94},{"r":98,"a":0.46,"b":0.5,"c":0.6,"h":0.58},{"r":101,"a":0.62,"b":0.66,"c":0.8,"h":0.76},{"r":103,"a":1.01,"b":1.05,"c":1.3,"h":1.21},{"r":105,"a":0.54,"b":0.58,"c":0.7,"h":0.67},{"r":107,"a":1.57,"b":1.61,"c":2.0,"h":1.84},{"r":110,"a":0.7,"b":0.74,"c":0.9,"h":0.85},{"r":113,"a":0.62,"b":0.66,"c":0.8,"h":0.76},{"r":116,"a":0.46,"b":0.5,"c":0.6,"h":0.58},{"r":119,"a":0.54,"b":0.58,"c":0.7,"h":0.67},{"r":122,"a":0.46,"b":0.5,"c":0.6,"h":0.58},{"r":125,"a":0.62,"b":0.66,"c":0.8,"h":0.76},{"r":128,"a":0.78,"b":0.82,"c":1.0,"h":0.94},{"r":131,"a":0.94,"b":0.98,"c":1.2,"h":1.12},{"r":134,"a":0.62,"b":0.66,"c":0.8,"h":0.76},{"r":136,"a":0.86,"b":0.9,"c":1.1,"h":1.03},{"r":139,"a":1.3,"b":1.34,"c":1.65,"h":1.53},{"r":142,"a":0.7,"b":0.74,"c":0.9,"h":0.85},{"r":145,"a":0.54,"b":0.58,"c":0.7,"h":0.67},{"r":148,"a":0.7,"b":0.74,"c":0.9,"h":0.85},{"r":151,"a":0.46,"b":0.5,"c":0.6,"h":0.58},{"r":154,"a":0.7,"b":0.74,"c":0.9,"h":0.85},{"r":157,"a":0.78,"b":0.82,"c":1.0,"h":0.94},{"r":160,"a":0.54,"b":0.58,"c":0.7,"h":0.67},{"r":163,"a":0.86,"b":0.9,"c":1.1,"h":1.03},{"r":166,"a":0.46,"b":0.5,"c":0.6,"h":0.58},{"r":169,"a":0.7,"b":0.74,"c":0.9,"h":0.85},{"r":172,"a":0.94,"b":0.98,"c":1.2,"h":1.12},{"r":175,"a":0.78,"b":0.82,"c":1.0,"h":0.94},{"r":179,"a":1.25,"b":1.29,"c":1.6,"h":1.48},{"r":182,"a":0.62,"b":0.66,"c":0.8,"h":0.76},{"r":185,"a":0.78,"b":0.82,"c":1.0,"h":0.94},{"r":188,"a":0.46,"b":0.5,"c":0.6,"h":0.58},{"r":191,"a":0.62,"b":0.66,"c":0.8,"h":0.76},{"r":194,"a":0.38,"b":0.42,"c":0.5,"h":0.49},{"r":197,"a":0.54,"b":0.58,"c":0.7,"h":0.67},{"r":200,"a":0.38,"b":0.42,"c":0.5,"h":0.49},{"r":203,"a":0.7,"b":0.74,"c":0.9,"h":0.85},{"r":205,"a":1.01,"b":1.05,"c":1.3,"h":1.21},{"r":207,"a":1.22,"b":1.26,"c":1.55,"h":1.44},{"r":210,"a":0.54,"b":0.58,"c":0.7,"h":0.67},{"r":213,"a":0.78,"b":0.82,"c":1.0,"h":0.94},{"r":217,"a":1.35,"b":1.39,"c":1.72,"h":1.59},{"r":220,"a":0.54,"b":0.58,"c":0.7,"h":0.67},{"r":223,"a":0.7,"b":0.74,"c":0.9,"h":0.85},{"r":226,"a":0.46,"b":0.5,"c":0.6,"h":0.58},{"r":229,"a":0.86,"b":0.9,"c":1.1,"h":1.03},{"r":232,"a":0.54,"b":0.58,"c":0.7,"h":0.67},{"r":235,"a":0.94,"b":0.98,"c":1.2,"h":1.12},{"r":238,"a":0.62,"b":0.66,"c":0.8,"h":0.76},{"r":241,"a":1.09,"b":1.13,"c":1.4,"h":1.3},{"r":244,"a":0.78,"b":0.82,"c":1.0,"h":0.94},{"r":247,"a":1.01,"b":1.05,"c":1.3,"h":1.21},{"r":250,"a":0.86,"b":0.9,"c":1.1,"h":1.03},{"r":253,"a":1.06,"b":1.1,"c":1.35,"h":1.26},{"r":256,"a":1.31,"b":1.35,"c":1.67,"h":1.54},{"r":259,"a":0.94,"b":0.98,"c":1.2,"h":1.12},{"r":262,"a":0.7,"b":0.74,"c":0.9,"h":0.85},{"r":265,"a":1.01,"b":1.05,"c":1.3,"h":1.21},{"r":268,"a":0.78,"b":0.82,"c":1.0,"h":0.94},{"r":271,"a":0.94,"b":0.98,"c":1.2,"h":1.12},{"r":274,"a":0.62,"b":0.66,"c":0.8,"h":0.76},{"r":277,"a":0.78,"b":0.82,"c":1.0,"h":0.94},{"r":279,"a":1.17,"b":1.21,"c":1.5,"h":1.39},{"r":282,"a":0.7,"b":0.74,"c":0.9,"h":0.85},{"r":285,"a":1.01,"b":1.05,"c":1.3,"h":1.21},{"r":288,"a":0.54,"b":0.58,"c":0.7,"h":0.67},{"r":291,"a":0.78,"b":0.82,"c":1.0,"h":0.94},{"r":294,"a":0.94,"b":0.98,"c":1.2,"h":1.12},{"r":297,"a":0.62,"b":0.66,"c":0.8,"h":0.76},{"r":300,"a":1.09,"b":1.13,"c":1.4,"h":1.3},{"r":303,"a":2.12,"b":2.16,"c":2.7,"h":2.47},{"r":306,"a":1.01,"b":1.05,"c":1.3,"h":1.21},{"r":309,"a":0.62,"b":0.66,"c":0.8,"h":0.76},{"r":312,"a":0.78,"b":0.82,"c":1.0,"h":0.94},{"r":315,"a":0.46,"b":0.5,"c":0.6,"h":0.58},{"r":318,"a":0.54,"b":0.58,"c":0.7,"h":0.67},{"r":321,"a":0.38,"b":0.42,"c":0.5,"h":0.49},{"r":324,"a":0.46,"b":0.5,"c":0.6,"h":0.58},{"r":327,"a":0.38,"b":0.42,"c":0.5,"h":0.49},{"r":330,"a":0.62,"b":0.66,"c":0.8,"h":0.76},{"r":333,"a":0.94,"b":0.98,"c":1.2,"h":1.12},{"r":336,"a":1.09,"b":1.13,"c":1.4,"h":1.3},{"r":339,"a":1.31,"b":1.35,"c":1.67,"h":1.54},{"r":342,"a":1.01,"b":1.05,"c":1.3,"h":1.21},{"r":345,"a":1.09,"b":1.13,"c":1.4,"h":1.3},{"r":348,"a":0.78,"b":0.82,"c":1.0,"h":0.94},{"r":351,"a":1.09,"b":1.13,"c":1.4,"h":1.3},{"r":354,"a":0.94,"b":0.98,"c":1.2,"h":1.12},{"r":357,"a":0.7,"b":0.74,"c":0.9,"h":0.85},{"r":360,"a":0.94,"b":0.98,"c":1.2,"h":1.12},{"r":363,"a":0.78,"b":0.82,"c":1.0,"h":0.94},{"r":366,"a":1.49,"b":1.53,"c":1.9,"h":1.75},{"r":369,"a":0.78,"b":0.82,"c":1.0,"h":0.94},{"r":372,"a":1.09,"b":1.13,"c":1.4,"h":1.3},{"r":375,"a":2.44,"b":2.48,"c":3.1,"h":2.83},{"r":378,"a":1.17,"b":1.21,"c":1.5,"h":1.39},{"r":381,"a":0.78,"b":0.82,"c":1.0,"h":0.94},{"r":384,"a":0.62,"b":0.66,"c":0.8,"h":0.76},{"r":387,"a":1.09,"b":1.13,"c":1.4,"h":1.3},{"r":390,"a":0.54,"b":0.58,"c":0.7,"h":0.67},{"r":393,"a":0.94,"b":0.98,"c":1.2,"h":1.12},{"r":396,"a":0.62,"b":0.66,"c":0.8,"h":0.76},{"r":399,"a":1.41,"b":1.45,"c":1.8,"h":1.66},{"r":402,"a":0.78,"b":0.82,"c":1.0,"h":0.94},{"r":405,"a":0.94,"b":0.98,"c":1.2,"h":1.12},{"r":408,"a":0.62,"b":0.66,"c":0.8,"h":0.76},{"r":411,"a":0.78,"b":0.82,"c":1.0,"h":0.94},{"r":414,"a":0.46,"b":0.5,"c":0.6,"h":0.58},{"r":417,"a":0.62,"b":0.66,"c":0.8,"h":0.76},{"r":420,"a":0.46,"b":0.5,"c":0.6,"h":0.58},{"r":423,"a":0.7,"b":0.74,"c":0.9,"h":0.85},{"r":427,"a":1.49,"b":1.53,"c":1.9,"h":1.75},{"r":430,"a":0.78,"b":0.82,"c":1.0,"h":0.94},{"r":432,"a":1.49,"b":1.53,"c":1.9,"h":1.75},{"r":435,"a":0.62,"b":0.66,"c":0.8,"h":0.76},{"r":438,"a":0.78,"b":0.82,"c":1.0,"h":0.94},{"r":441,"a":0.54,"b":0.58,"c":0.7,"h":0.67},{"r":444,"a":0.94,"b":0.98,"c":1.2,"h":1.12},{"r":447,"a":0.7,"b":0.74,"c":0.9,"h":0.85},{"r":450,"a":1.01,"b":1.05,"c":1.3,"h":1.21},{"r":453,"a":1.25,"b":1.29,"c":1.6,"h":1.48},{"r":456,"a":1.01,"b":1.05,"c":1.3,"h":1.21},{"r":459,"a":1.17,"b":1.21,"c":1.5,"h":1.39},{"r":462,"a":0.94,"b":0.98,"c":1.2,"h":1.12},{"r":465,"a":0.78,"b":0.82,"c":1.0,"h":0.94},{"r":468,"a":1.01,"b":1.05,"c":1.3,"h":1.21},{"r":471,"a":0.62,"b":0.66,"c":0.8,"h":0.76},{"r":474,"a":0.86,"b":0.9,"c":1.1,"h":1.03},{"r":477,"a":0.54,"b":0.58,"c":0.7,"h":0.67},{"r":480,"a":0.78,"b":0.82,"c":1.0,"h":0.94},{"r":483,"a":1.57,"b":1.61,"c":2.0,"h":1.84},{"r":486,"a":1.17,"b":1.21,"c":1.5,"h":1.39},{"r":489,"a":1.49,"b":1.53,"c":1.9,"h":1.75},{"r":492,"a":0.94,"b":0.98,"c":1.2,"h":1.12},{"r":495,"a":1.57,"b":1.61,"c":2.0,"h":1.84},{"r":498,"a":0.78,"b":0.82,"c":1.0,"h":0.94},{"r":501,"a":1.49,"b":1.53,"c":1.9,"h":1.75},{"r":504,"a":0.78,"b":0.82,"c":1.0,"h":0.94},{"r":507,"a":0.54,"b":0.58,"c":0.7,"h":0.67},{"r":510,"a":1.01,"b":1.05,"c":1.3,"h":1.21},{"r":513,"a":1.41,"b":1.45,"c":1.8,"h":1.66},{"r":516,"a":0.78,"b":0.82,"c":1.0,"h":0.94},{"r":519,"a":1.09,"b":1.13,"c":1.4,"h":1.3},{"r":521,"a":1.96,"b":2.0,"c":2.5,"h":2.29},{"r":524,"a":1.25,"b":1.29,"c":1.6,"h":1.48},{"r":527,"a":1.89,"b":1.93,"c":2.4,"h":2.2},{"r":530,"a":1.57,"b":1.61,"c":2.0,"h":1.84},{"r":532,"a":2.2,"b":2.24,"c":2.8,"h":2.56},{"r":535,"a":2.6,"b":2.8,"c":3.1,"h":3.1}
],
"bands":[
{"s":4,"e":9,"t":"E"},{"s":14,"e":19,"t":"E"},{"s":25,"e":29,"t":"E"},{"s":57,"e":59,"t":"E"},{"s":97,"e":101,"t":"E"},{"s":108,"e":113,"t":"E"},{"s":142,"e":146,"t":"E"},{"s":194,"e":198,"t":"E"},{"s":219,"e":223,"t":"E"},{"s":318,"e":327,"t":"E"},{"s":416,"e":421,"t":"E"},{"s":503,"e":508,"t":"E"},{"s":514,"e":517,"t":"E"},
{"s":132,"e":137,"t":"H"},{"s":167,"e":180,"t":"H"},{"s":200,"e":210,"t":"H"},{"s":237,"e":249,"t":"H"},{"s":262,"e":267,"t":"H"},{"s":328,"e":334,"t":"H"},{"s":349,"e":358,"t":"H"},{"s":368,"e":373,"t":"H"},{"s":385,"e":412,"t":"H"},{"s":443,"e":448,"t":"H"},{"s":460,"e":479,"t":"H"},{"s":520,"e":529,"t":"H"}
],
"cb":[{"r":71,"v":0.65},{"r":83,"v":0.7},{"r":117,"v":0.55},{"r":118,"v":0.55},{"r":119,"v":0.55},{"r":120,"v":0.6},{"r":121,"v":0.6},{"r":281,"v":1.1},{"r":282,"v":1.1},{"r":283,"v":1.2},{"r":284,"v":1.3},{"r":285,"v":1.2},{"r":286,"v":1.1},{"r":287,"v":0.9},{"r":327,"v":0.6},{"r":328,"v":0.65},{"r":329,"v":0.8},{"r":330,"v":0.9}],
"cd":[{"r":67,"v":1.3},{"r":68,"v":1.5},{"r":69,"v":1.6},{"r":70,"v":1.3},{"r":71,"v":1.4},{"r":72,"v":1.5},{"r":73,"v":1.2},{"r":120,"v":1.4},{"r":269,"v":1.1},{"r":271,"v":1.3},{"r":273,"v":1.2},{"r":275,"v":1.3},{"r":277,"v":1.0},{"r":279,"v":1.2},{"r":281,"v":1.3},{"r":283,"v":1.1},{"r":285,"v":1.2},{"r":286,"v":1.0},{"r":324,"v":0.8},{"r":326,"v":0.9},{"r":328,"v":1.1},{"r":330,"v":1.2},{"r":332,"v":1.3},{"r":334,"v":1.4},{"r":336,"v":1.2},{"r":338,"v":1.0},{"r":354,"v":1.0}],
"cf":[{"r":69,"v":0.8},{"r":70,"v":0.9},{"r":71,"v":1.0},{"r":72,"v":0.9},{"r":73,"v":0.8},{"r":120,"v":0.55},{"r":279,"v":0.9},{"r":280,"v":0.8},{"r":283,"v":0.7},{"r":284,"v":0.7},{"r":285,"v":0.8},{"r":286,"v":0.75},{"r":330,"v":0.5}]
},
"hconcat":[
{
 "title":{"text":"RMSD assessment","fontSize":16,"anchor":"middle","offset":3},
 "spacing":18,
 "vconcat":[
  {"title":{"text":"(a)","anchor":"start","frame":"bounds","fontSize":16,"offset":-6,"dx":-4},
   "width":306,"height":144,"data":{"name":"ra"},
   "transform":[{"fold":["b","p","l"],"as":["k","v"]}],
   "layer":[
    {"transform":[{"filter":"datum.k=='b'"}],"mark":{"type":"line","clip":true},
     "encoding":{"x":{"field":"t","type":"quantitative","scale":{"domain":[-2.5,50],"nice":false,"zero":false},"axis":{"title":"Time (nsec)","values":[0,10,20,30,40,50],"titleFontSize":10.5}},
      "y":{"field":"v","type":"quantitative","scale":{"domain":[0,2.98],"nice":false,"zero":false},"axis":{"title":"Protein RMSD (Å)","values":[0.3,0.6,0.9,1.2,1.5,1.8,2.1,2.4,2.7],"format":".1f","titleFontSize":11}},
      "color":{"field":"k","type":"nominal","scale":{"domain":["b","p","l"],"range":["#55dd00","#ea0035","#ff44f0"]},"legend":{"title":null,"orient":"bottom","direction":"horizontal","symbolType":"M-1,0H1","symbolSize":529,"symbolStrokeWidth":8,"labelFontSize":12.5,"columnPadding":-4,"gridAlign":"none","labelExpr":"datum.label=='b'?'Backbone':datum.label=='p'?'Lig fit Prot':'Lig fit Lig'"}},
      "strokeWidth":{"value":1.1}}},
    {"transform":[{"filter":"datum.k!='b'"}],"mark":{"type":"line","clip":true},
     "encoding":{"x":{"field":"t","type":"quantitative","axis":{"title":"Time (nsec)","values":[0,10,20,30,40,50],"titleFontSize":10.5}},
      "y":{"field":"v","type":"quantitative","scale":{"domain":[0,1.95],"nice":false,"zero":false},"axis":{"orient":"right","title":"Ligand RMSD (Å)","values":[0.2,0.4,0.6,0.8,1.0,1.2,1.4,1.6,1.8],"format":".1f","titleFontSize":10.5}},
      "color":{"field":"k","type":"nominal"},
      "strokeWidth":{"value":1.1}}}
   ],
   "resolve":{"scale":{"y":"independent"}}},
  {"title":{"text":"(c)","anchor":"start","frame":"bounds","fontSize":16,"offset":-6,"dx":-4},
   "width":312,"height":145,"data":{"name":"rc"},
   "transform":[{"fold":["b","p","l"],"as":["k","v"]}],
   "layer":[
    {"transform":[{"filter":"datum.k=='b'"}],"mark":{"type":"line","clip":true},
     "encoding":{"x":{"field":"t","type":"quantitative","scale":{"domain":[-2.4,50],"nice":false,"zero":false},"axis":{"title":"Time (nsec)","values":[0,10,20,30,40,50],"titleFontSize":10.5}},
      "y":{"field":"v","type":"quantitative","scale":{"domain":[0,2.58],"nice":false,"zero":false},"axis":{"title":"Protein RMSD (Å)","values":[0.3,0.6,0.9,1.2,1.5,1.8,2.1,2.4],"format":".1f","titleFontSize":11}},
      "color":{"field":"k","type":"nominal"},
      "strokeWidth":{"value":1.1}}},
    {"transform":[{"filter":"datum.k!='b'"}],"mark":{"type":"line","clip":true},
     "encoding":{"x":{"field":"t","type":"quantitative","axis":{"title":"Time (nsec)","values":[0,10,20,30,40,50],"titleFontSize":10.5}},
      "y":{"field":"v","type":"quantitative","scale":{"domain":[0,5.59],"nice":false,"zero":false},"axis":{"orient":"right","title":"Ligand RMSD (Å)","values":[0.6,1.2,1.8,2.4,3.0,3.6,4.2,4.8,5.4],"format":".1f","titleFontSize":10.5}},
      "color":{"field":"k","type":"nominal"},
      "strokeWidth":{"value":1.1}}}
   ],
   "resolve":{"scale":{"y":"independent"}}},
  {"title":{"text":"(e)","anchor":"start","frame":"bounds","fontSize":16,"offset":-6,"dx":-4},
   "width":313,"height":148,"data":{"name":"re"},
   "transform":[{"fold":["b","p","l"],"as":["k","v"]}],
   "layer":[
    {"transform":[{"filter":"datum.k=='b'"}],"mark":{"type":"line","clip":true},
     "encoding":{"x":{"field":"t","type":"quantitative","scale":{"domain":[-2.4,50],"nice":false,"zero":false},"axis":{"title":"Time (nsec)","values":[0,10,20,30,40,50],"titleFontSize":10.5}},
      "y":{"field":"v","type":"quantitative","scale":{"domain":[0,2.83],"nice":false,"zero":false},"axis":{"title":"Protein RMSD (Å)","values":[0.3,0.6,0.9,1.2,1.5,1.8,2.1,2.4,2.7],"format":".1f","titleFontSize":11}},
      "color":{"field":"k","type":"nominal"},
      "strokeWidth":{"value":1.1}}},
    {"transform":[{"filter":"datum.k!='b'"}],"mark":{"type":"line","clip":true},
     "encoding":{"x":{"field":"t","type":"quantitative","axis":{"title":"Time (nsec)","values":[0,10,20,30,40,50],"titleFontSize":10.5}},
      "y":{"field":"v","type":"quantitative","scale":{"domain":[0,3.18],"nice":false,"zero":false},"axis":{"orient":"right","title":"Ligand RMSD (Å)","values":[0.4,0.8,1.2,1.6,2.0,2.4,2.8],"format":".1f","titleFontSize":10.5}},
      "color":{"field":"k","type":"nominal"},
      "strokeWidth":{"value":1.1}}}
   ],
   "resolve":{"scale":{"y":"independent"}}}
 ]
},
{
 "title":{"text":"RMSF assessment","fontSize":16,"anchor":"middle","offset":3,"dx":18},
 "spacing":18,
 "vconcat":[
  {"title":{"text":"(b)","anchor":"start","frame":"bounds","fontSize":16,"offset":-6,"dx":-3},
   "width":327,"height":151,
   "layer":[
    {"data":{"name":"bands"},"mark":{"type":"rect"},
     "encoding":{"x":{"field":"s","type":"quantitative","scale":{"domain":[0,540],"nice":false,"zero":false},"axis":{"title":"Residue Index","values":[0,100,200,300,400,500],"labelFont":"DejaVu Sans","labelFontWeight":"normal","labelColor":"#999999","labelFontSize":7,"titleFont":"DejaVu Sans","titleFontWeight":"normal","titleColor":"#888888","titleFontSize":12.5,"titlePadding":2}},
      "x2":{"field":"e"},
      "color":{"condition":{"test":"datum.t=='H'","value":"#fde3da"},"value":"#dcf4fb"}}},
    {"data":{"name":"cb"},"mark":{"type":"rule","color":"#118a11","strokeWidth":1.6},
     "encoding":{"x":{"field":"r","type":"quantitative","axis":{"title":"Residue Index","values":[0,100,200,300,400,500],"labelFont":"DejaVu Sans","labelFontWeight":"normal","labelColor":"#999999","labelFontSize":7,"titleFont":"DejaVu Sans","titleFontWeight":"normal","titleColor":"#888888","titleFontSize":12.5,"titlePadding":2}},
      "y":{"field":"v","type":"quantitative","scale":{"domain":[0,3.98],"nice":false,"zero":false},"axis":{"title":"RMSF (Å)","values":[0.4,0.8,1.2,1.6,2.0,2.4,2.8,3.2,3.6],"format":".1f","labelOverlap":false,"labelFont":"DejaVu Sans","labelFontWeight":"normal","labelColor":"#999999","labelFontSize":7,"titleFont":"DejaVu Sans","titleFontWeight":"normal","titleColor":"#888888","titleFontSize":12.5,"titlePadding":4}},
      "y2":{"datum":0}}},
    {"data":{"name":"fb"},"transform":[{"fold":["a","b","c","h"],"as":["k","v"]}],"mark":{"type":"line","clip":true},
     "encoding":{"x":{"field":"r","type":"quantitative","axis":{"title":"Residue Index","values":[0,100,200,300,400,500],"labelFont":"DejaVu Sans","labelFontWeight":"normal","labelColor":"#999999","labelFontSize":7,"titleFont":"DejaVu Sans","titleFontWeight":"normal","titleColor":"#888888","titleFontSize":12.5,"titlePadding":2}},
      "y":{"field":"v","type":"quantitative","axis":{"title":"RMSF (Å)","values":[0.4,0.8,1.2,1.6,2.0,2.4,2.8,3.2,3.6],"format":".1f","labelOverlap":false,"labelFont":"DejaVu Sans","labelFontWeight":"normal","labelColor":"#999999","labelFontSize":7,"titleFont":"DejaVu Sans","titleFontWeight":"normal","titleColor":"#888888","titleFontSize":12.5,"titlePadding":4}},
      "color":{"field":"k","type":"nominal","scale":{"domain":["a","b","c","h"],"range":["#2ab3bb","#22d422","#5c4a0c","#b8740e"]},"legend":{"title":null,"orient":"bottom","direction":"horizontal","symbolType":"M-1,0H1","symbolSize":484,"symbolStrokeWidth":8,"labelFontSize":10.5,"columnPadding":-6,"gridAlign":"none","labelExpr":"datum.label=='a'?'Cα':datum.label=='b'?'Backbone':datum.label=='c'?'Chain':'Heavy atoms'"}},
      "strokeWidth":{"value":1.4}}}
   ]},
  {"title":{"text":"(d)","anchor":"start","frame":"bounds","fontSize":16,"offset":-6,"dx":-3},
   "width":319,"height":142,
   "layer":[
    {"data":{"name":"bands"},"mark":{"type":"rect"},
     "encoding":{"x":{"field":"s","type":"quantitative","scale":{"domain":[0,535],"nice":false,"zero":false},"axis":{"title":"Residue Index","values":[0,100,200,300,400,500],"labelFont":"DejaVu Sans","labelFontWeight":"normal","labelColor":"#999999","labelFontSize":7,"titleFont":"DejaVu Sans","titleFontWeight":"normal","titleColor":"#888888","titleFontSize":12.5,"titlePadding":2}},
      "x2":{"field":"e"},
      "color":{"condition":{"test":"datum.t=='H'","value":"#fde3da"},"value":"#dcf4fb"}}},
    {"data":{"name":"cd"},"mark":{"type":"rule","color":"#118a11","strokeWidth":1.6},
     "encoding":{"x":{"field":"r","type":"quantitative","axis":{"title":"Residue Index","values":[0,100,200,300,400,500],"labelFont":"DejaVu Sans","labelFontWeight":"normal","labelColor":"#999999","labelFontSize":7,"titleFont":"DejaVu Sans","titleFontWeight":"normal","titleColor":"#888888","titleFontSize":12.5,"titlePadding":2}},
      "y":{"field":"v","type":"quantitative","scale":{"domain":[0,4.49],"nice":false,"zero":false},"axis":{"title":"RMSF (Å)","values":[0.5,1.0,1.5,2.0,2.5,3.0,3.5,4.0],"format":".1f","labelOverlap":false,"labelFont":"DejaVu Sans","labelFontWeight":"normal","labelColor":"#999999","labelFontSize":7,"titleFont":"DejaVu Sans","titleFontWeight":"normal","titleColor":"#888888","titleFontSize":12.5,"titlePadding":4}},
      "y2":{"datum":0}}},
    {"data":{"name":"fd"},"transform":[{"fold":["a","b","c","h"],"as":["k","v"]}],"mark":{"type":"line","clip":true},
     "encoding":{"x":{"field":"r","type":"quantitative","axis":{"title":"Residue Index","values":[0,100,200,300,400,500],"labelFont":"DejaVu Sans","labelFontWeight":"normal","labelColor":"#999999","labelFontSize":7,"titleFont":"DejaVu Sans","titleFontWeight":"normal","titleColor":"#888888","titleFontSize":12.5,"titlePadding":2}},
      "y":{"field":"v","type":"quantitative","axis":{"title":"RMSF (Å)","values":[0.5,1.0,1.5,2.0,2.5,3.0,3.5,4.0],"format":".1f","labelOverlap":false,"labelFont":"DejaVu Sans","labelFontWeight":"normal","labelColor":"#999999","labelFontSize":7,"titleFont":"DejaVu Sans","titleFontWeight":"normal","titleColor":"#888888","titleFontSize":12.5,"titlePadding":4}},
      "color":{"field":"k","type":"nominal"},
      "strokeWidth":{"value":1.4}}}
   ]},
  {"title":{"text":"(f)","anchor":"start","frame":"bounds","fontSize":16,"offset":-6,"dx":-3},
   "width":320,"height":144,
   "layer":[
    {"data":{"name":"bands"},"mark":{"type":"rect"},
     "encoding":{"x":{"field":"s","type":"quantitative","scale":{"domain":[0,535],"nice":false,"zero":false},"axis":{"title":"Residue Index","values":[0,100,200,300,400,500],"labelFont":"DejaVu Sans","labelFontWeight":"normal","labelColor":"#999999","labelFontSize":7,"titleFont":"DejaVu Sans","titleFontWeight":"normal","titleColor":"#888888","titleFontSize":12.5,"titlePadding":2}},
      "x2":{"field":"e"},
      "color":{"condition":{"test":"datum.t=='H'","value":"#fde3da"},"value":"#dcf4fb"}}},
    {"data":{"name":"cf"},"mark":{"type":"rule","color":"#118a11","strokeWidth":1.6},
     "encoding":{"x":{"field":"r","type":"quantitative","axis":{"title":"Residue Index","values":[0,100,200,300,400,500],"labelFont":"DejaVu Sans","labelFontWeight":"normal","labelColor":"#999999","labelFontSize":7,"titleFont":"DejaVu Sans","titleFontWeight":"normal","titleColor":"#888888","titleFontSize":12.5,"titlePadding":2}},
      "y":{"field":"v","type":"quantitative","scale":{"domain":[0,3.09],"nice":false,"zero":false},"axis":{"title":"RMSF (Å)","values":[0.4,0.8,1.2,1.6,2.0,2.4,2.8],"format":".1f","labelOverlap":false,"labelFont":"DejaVu Sans","labelFontWeight":"normal","labelColor":"#999999","labelFontSize":7,"titleFont":"DejaVu Sans","titleFontWeight":"normal","titleColor":"#888888","titleFontSize":12.5,"titlePadding":4}},
      "y2":{"datum":0}}},
    {"data":{"name":"ff"},"transform":[{"fold":["a","b","c","h"],"as":["k","v"]}],"mark":{"type":"line","clip":true},
     "encoding":{"x":{"field":"r","type":"quantitative","axis":{"title":"Residue Index","values":[0,100,200,300,400,500],"labelFont":"DejaVu Sans","labelFontWeight":"normal","labelColor":"#999999","labelFontSize":7,"titleFont":"DejaVu Sans","titleFontWeight":"normal","titleColor":"#888888","titleFontSize":12.5,"titlePadding":2}},
      "y":{"field":"v","type":"quantitative","axis":{"title":"RMSF (Å)","values":[0.4,0.8,1.2,1.6,2.0,2.4,2.8],"format":".1f","labelOverlap":false,"labelFont":"DejaVu Sans","labelFontWeight":"normal","labelColor":"#999999","labelFontSize":7,"titleFont":"DejaVu Sans","titleFontWeight":"normal","titleColor":"#888888","titleFontSize":12.5,"titlePadding":4}},
      "color":{"field":"k","type":"nominal"},
      "strokeWidth":{"value":1.4}}}
   ]}
 ]
}
],
"spacing":24,
"resolve":{"scale":{"color":"independent"},"legend":{"color":"independent"}}
}
